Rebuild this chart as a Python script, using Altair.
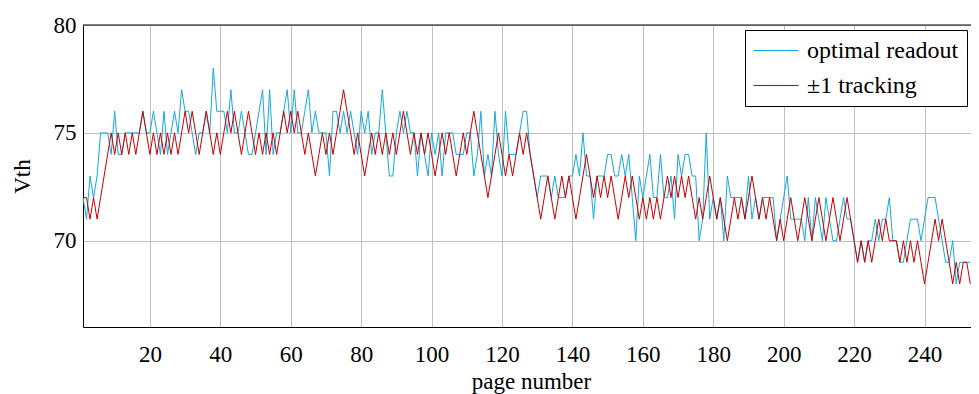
import altair as alt
import pandas as pd

series_names = ["optimal readout", "±1 tracking"]
series_colors = ["#12a9e2", "#c80000"]
x_ticks = [20, 40, 60, 80, 100, 120, 140, 160, 180, 200, 220, 240]
y_ticks = [70, 75, 80]

optimal = [
    72, 71, 73, 72, 73, 75, 75, 75, 74, 76,
    74, 74, 75, 75, 75, 75, 75, 76, 75, 75,
    76, 75, 74, 76, 74, 75, 76, 75, 77, 76,
    76, 75, 74, 75, 75, 76, 75, 78, 76, 76,
    76, 75, 77, 75, 75, 76, 75, 74, 74, 75,
    76, 77, 74, 77, 74, 75, 75, 76, 77, 75,
    77, 75, 75, 76, 77, 75, 76, 75, 75, 75,
    73, 76, 76, 75, 76, 75, 76, 75, 74, 76,
    75, 76, 74, 75, 75, 77, 75, 73, 73, 75,
    76, 75, 76, 75, 75, 73, 75, 74, 73, 75,
    74, 75, 73, 75, 75, 75, 74, 74, 74, 75,
    75, 73, 74, 76, 73, 74, 73, 76, 74, 73,
    76, 74, 74, 74, 75, 76, 76, 74, 73, 72,
    73, 73, 73, 72, 73, 72, 72, 72, 73, 73,
    74, 73, 75, 73, 73, 71, 73, 73, 73, 74,
    74, 73, 73, 74, 73, 74, 72, 70, 73, 72,
    73, 74, 72, 72, 74, 72, 72, 73, 71, 74,
    73, 74, 74, 73, 73, 70, 71, 75, 71, 72,
    71, 72, 70, 73, 72, 72, 72, 72, 71, 73,
    71, 72, 71, 72, 72, 72, 72, 70, 71, 72,
    73, 71, 71, 71, 71, 70, 72, 70, 72, 71,
    70, 72, 71, 70, 70, 71, 72, 71, 71, 70,
    69, 70, 69, 70, 70, 71, 70, 71, 71, 72,
    70, 70, 69, 69, 70, 71, 71, 71, 70, 71,
    72, 72, 72, 71, 70, 69, 69, 70, 68, 69,
    69, 69, 69,
]

tracking = [
    72, 72, 71, 72, 71, 72, 73, 74, 75, 74,
    75, 74, 75, 74, 75, 74, 75, 76, 75, 74,
    75, 74, 75, 74, 75, 74, 75, 74, 75, 76,
    75, 76, 75, 74, 75, 76, 75, 74, 75, 74,
    75, 76, 75, 76, 75, 74, 75, 76, 75, 74,
    75, 74, 75, 74, 75, 74, 75, 76, 75, 76,
    75, 76, 75, 74, 75, 74, 73, 74, 75, 74,
    75, 74, 75, 76, 77, 76, 75, 74, 75, 74,
    73, 74, 75, 74, 75, 74, 75, 74, 75, 74,
    75, 76, 75, 74, 75, 74, 75, 74, 75, 74,
    73, 74, 75, 74, 75, 74, 73, 74, 75, 74,
    75, 76, 75, 74, 73, 72, 73, 74, 75, 74,
    73, 74, 73, 74, 75, 74, 75, 74, 73, 72,
    71, 72, 73, 72, 71, 72, 73, 72, 73, 72,
    71, 72, 73, 74, 73, 72, 73, 72, 73, 72,
    73, 72, 71, 72, 73, 72, 73, 72, 71, 72,
    71, 72, 71, 72, 71, 72, 73, 72, 73, 72,
    73, 72, 73, 72, 71, 72, 71, 72, 73, 72,
    71, 72, 71, 70, 71, 72, 71, 72, 71, 72,
    73, 72, 71, 72, 71, 72, 71, 70, 71, 70,
    71, 72, 71, 70, 71, 72, 71, 70, 71, 72,
    71, 70, 71, 72, 71, 70, 71, 72, 71, 70,
    69, 70, 69, 70, 69, 70, 71, 70, 71, 70,
    70, 70, 69, 70, 69, 70, 69, 70, 69, 68,
    69, 70, 71, 70, 71, 70, 69, 68, 69, 68,
    69, 69, 68,
]

pages_opt = list(range(1, len(optimal) + 1))
pages_trk = list(range(1, len(tracking) + 1))

df = pd.DataFrame({
    "page": pages_opt + pages_trk,
    "Vth": optimal + tracking,
    "series": [series_names[0]] * len(optimal) + [series_names[1]] * len(tracking),
})

W, H = 888, 302
FONT = "Liberation Serif"
FS = 23

lines = alt.Chart(df).mark_line(strokeWidth=1, clip=True).encode(
    x=alt.X("page:Q",
            scale=alt.Scale(domain=[1, 253.2], nice=False, zero=False),
            axis=alt.Axis(values=x_ticks, title="page number", grid=True,
                          gridColor="#c0c0c0", gridWidth=1, ticks=False,
                          domainColor="black", domainWidth=1,
                          labelFont=FONT, labelFontSize=FS, labelColor="black",
                          labelPadding=16, labelFlush=False,
                          titleFont=FONT, titleFontSize=FS, titleFontWeight="normal",
                          titleColor="black", titleX=448, titleY=54,
                          titleAlign="center", titleBaseline="middle")),
    y=alt.Y("Vth:Q",
            scale=alt.Scale(domain=[66, 80], nice=False, zero=False),
            axis=alt.Axis(values=y_ticks, title="Vth", grid=True,
                          gridColor="#c0c0c0", gridWidth=1, ticks=False,
                          domainColor="black", domainWidth=1,
                          labelFont=FONT, labelFontSize=FS, labelColor="black",
                          labelPadding=7,
                          titleFont=FONT, titleFontSize=FS, titleFontWeight="normal",
                          titleColor="black", titleX=-61, titleY=151, titleAngle=270,
                          titleAlign="center", titleBaseline="middle")),
    color=alt.Color("series:N",
                    scale=alt.Scale(domain=series_names, range=series_colors),
                    legend=alt.Legend(title=None, orient="none", legendX=662, legendY=5,
                                      symbolType="M-1,0H2.75", symbolSize=576,
                                      symbolStrokeWidth=1,
                                      labelFont=FONT, labelFontSize=24,
                                      labelColor="black", labelOffset=29,
                                      labelLimit=400,
                                      strokeColor="black", fillColor="white",
                                      padding=8, rowPadding=10)),
)

top_border = alt.Chart(pd.DataFrame({"k": [0]})).mark_rule(
    color="black", strokeWidth=1
).encode(x=alt.value(0), x2=alt.value(W), y=alt.value(0))

chart = alt.layer(lines, top_border).properties(
    width=W, height=H,
    autosize=alt.AutoSizeParams(type="none"),
    padding={"left": 75, "top": 17, "right": 0, "bottom": 68},
).configure(font=FONT).configure_legend(labelFont=FONT).configure_view(stroke=None)

chart.save("out.html", embed_options={"renderer": "svg", "actions": False})
